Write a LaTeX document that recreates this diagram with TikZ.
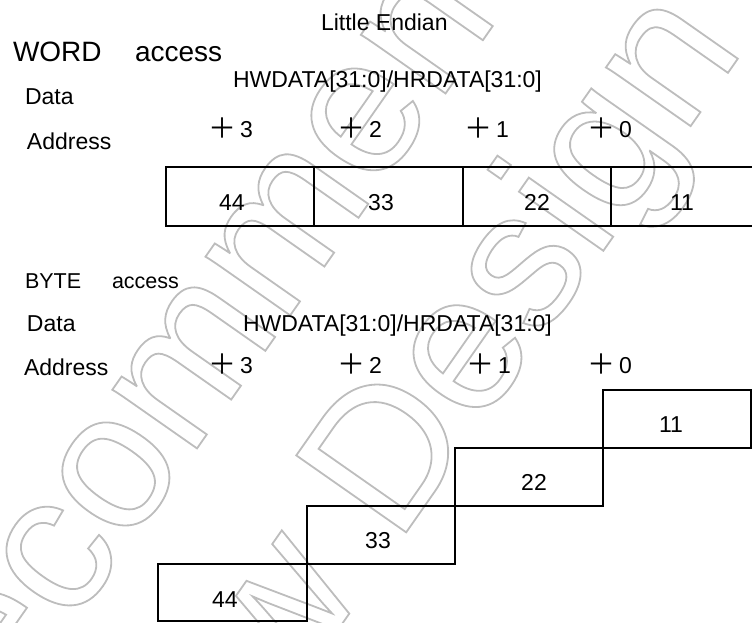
\documentclass[tikz,border=0pt]{standalone}
\usepackage{fontspec}
\setmainfont{Liberation Sans}
\newfontfamily\cjkfont{Noto Sans CJK JP}
\newcommand{\pluslab}[1]{{\fontsize{28}{28}\cjkfont\raisebox{-1.5pt}{＋}}\hspace{4pt}#1}
\newcommand{\wmon}{\special{pdf:literal direct 1 Tr 1.8 w 0.74 G}}
\newcommand{\wmoff}{\special{pdf:literal direct 0 Tr}}
\tikzset{
  txt/.style={inner sep=0pt, outer sep=0pt, anchor=base west, font=\fontsize{23}{27}\selectfont},
  bigtxt/.style={inner sep=0pt, outer sep=0pt, anchor=base west, font=\fontsize{28}{32}\selectfont},
  midtxt/.style={inner sep=0pt, outer sep=0pt, anchor=base west, font=\fontsize{21.5}{25}\selectfont},
  num/.style={inner sep=0pt, outer sep=0pt, anchor=base, font=\fontsize{23}{27}\selectfont},
  cell/.style={draw, line width=2pt, minimum width=148.25pt, inner sep=0pt, outer sep=0pt, anchor=north west},
  wm/.style={inner sep=0pt, outer sep=0pt, anchor=base, rotate=55, font=\fontsize{195}{234}\selectfont},
}
\begin{document}
\begin{tikzpicture}[x=1pt,y=-1pt]
\useasboundingbox (0,0) rectangle (752,622);
\clip (0,0) rectangle (752,622);
% watermark
\node[wm] (wm1) at (205,437) {\wmon Not Recommended\wmoff};
\node[wm] (wm2) at (363,594) {\wmon for New Design\wmoff};
% WORD access
\node[txt] (title) at (321,30) {Little Endian};
\node[bigtxt] (wword) at (13,61) {WORD};
\node[bigtxt] (wacc) at (135,61) {access};
\node[txt] (wbus) at (233,87) {HWDATA[31:0]/HRDATA[31:0]};
\node[txt] (wdata) at (25,104) {Data};
\node[txt] (waddr) at (27,149) {Address};
\node[txt] (wa3) at (208,137) {\pluslab{3}};
\node[txt] (wa2) at (337,137) {\pluslab{2}};
\node[txt] (wa1) at (464,137) {\pluslab{1}};
\node[txt] (wa0) at (587,137) {\pluslab{0}};
\node[cell, minimum height=59pt] (w44) at (166,167) {};
\node[cell, minimum height=59pt] (w33) at (314.25,167) {};
\node[cell, minimum height=59pt] (w22) at (462.5,167) {};
\node[cell, minimum height=59pt] (w11) at (610.75,167) {};
\node[num] (n44) at (232,210) {44};
\node[num] (n33) at (381,210) {33};
\node[num] (n22) at (537,210) {22};
\node[num] (n11) at (682,210) {11};
% BYTE access
\node[midtxt] (bbyte) at (25,288) {BYTE};
\node[midtxt] (bacc) at (112,288) {access};
\node[txt] (bdata) at (27,331) {Data};
\node[txt] (bbus) at (243,331) {HWDATA[31:0]/HRDATA[31:0]};
\node[txt] (baddr) at (24,375) {Address};
\node[txt] (ba3) at (208,373) {\pluslab{3}};
\node[txt] (ba2) at (337,373) {\pluslab{2}};
\node[txt] (ba1) at (466,373) {\pluslab{1}};
\node[txt] (ba0) at (587,373) {\pluslab{0}};
\node[cell, minimum width=148pt, minimum height=57.5pt] (b11) at (603,390) {};
\node[cell, minimum width=148pt, minimum height=58pt] (b22) at (455,447.5) {};
\node[cell, minimum width=148pt, minimum height=58pt] (b33) at (307,505.5) {};
\node[cell, minimum width=149pt, minimum height=57.5pt] (b44) at (158,563.5) {};
\node[num] (m11) at (671,432) {11};
\node[num] (m22) at (534,490) {22};
\node[num] (m33) at (378,548) {33};
\node[num] (m44) at (225,607) {44};
\end{tikzpicture}
\end{document}
